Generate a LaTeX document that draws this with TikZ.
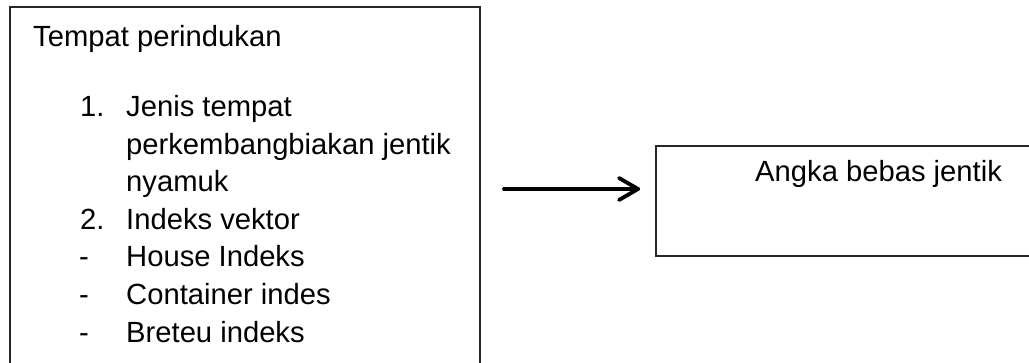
\documentclass[tikz,border=0pt]{standalone}
\usepackage{fontspec}
\setmainfont{Liberation Sans}
\usetikzlibrary{arrows.meta}
\begin{document}
\begin{tikzpicture}[x=1pt,y=-1pt,
  boxline/.style={draw=black!85,line width=1.4pt},
  txt/.style={anchor=base west,inner sep=0pt,font=\fontsize{29.2}{34}\selectfont},
  arrowline/.style={line width=3.8pt,line cap=round,line join=round}]
\useasboundingbox (0,0) rectangle (1029,363);
\fill[white] (0,0) rectangle (1029,363);
% left box
\draw[boxline] (10,7) rectangle (480,380);
\node[txt] (t0) at (33,47) {Tempat perindukan};
\node[txt] (n1) at (80,117) {1.};
\node[txt] (t1) at (126,117) {Jenis tempat};
\node[txt] (t2) at (126,155) {perkembangbiakan jentik};
\node[txt] (t3) at (126,192) {nyamuk};
\node[txt] (n2) at (80,230) {2.};
\node[txt] (t4) at (126,230) {Indeks vektor};
\node[txt] (d1) at (79,267) {-};
\node[txt] (t5) at (126,267) {House Indeks};
\node[txt] (d2) at (79,305) {-};
\node[txt] (t6) at (126,305) {Container indes};
\node[txt] (d3) at (79,343) {-};
\node[txt] (t7) at (126,343) {Breteu indeks};
% right box
\draw[boxline] (656,146) rectangle (1040,256);
\node[txt] (r) at (755,182) {Angka bebas jentik};
% arrow
\coordinate (a) at (504,189);
\coordinate (b) at (638,189);
\begin{scope}[shift={(1,3)},black!20,opacity=0.7]
\draw[arrowline] (a) -- (b);
\draw[arrowline] ([shift={(-19,-11)}]b) -- (b) -- ([shift={(-19,11)}]b);
\end{scope}
\draw[arrowline] (a) -- (b);
\draw[arrowline] ([shift={(-19,-11)}]b) -- (b) -- ([shift={(-19,11)}]b);
\end{tikzpicture}
\end{document}
